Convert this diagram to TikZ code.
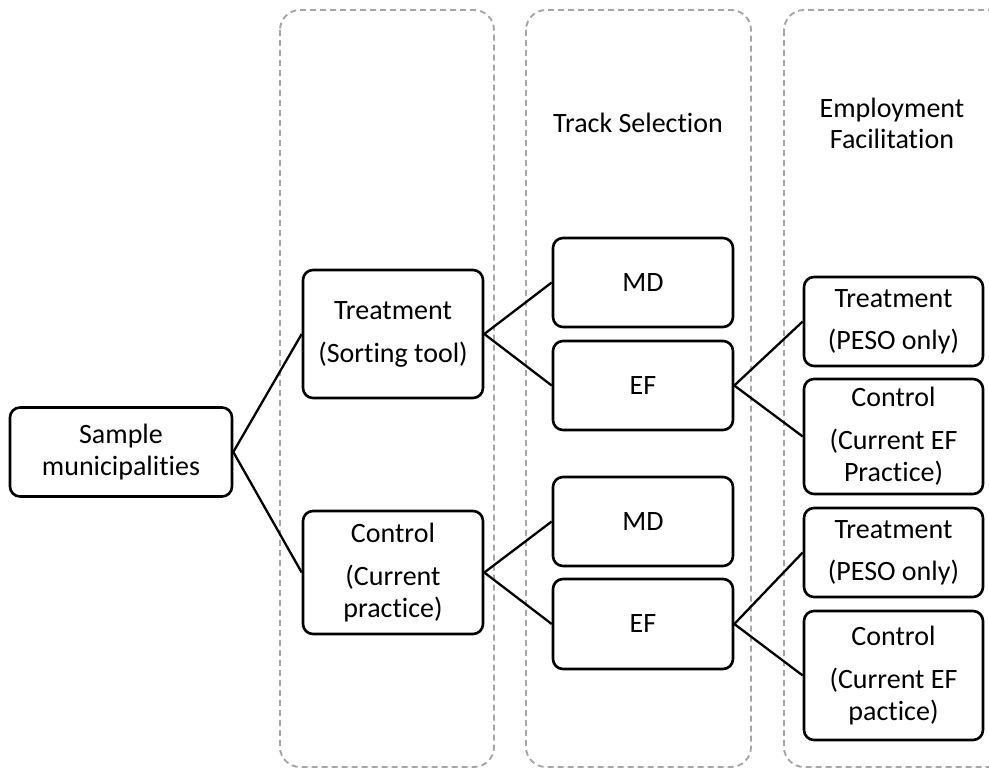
\documentclass[tikz,border=0pt]{standalone}
\usepackage{fontspec}
\setmainfont[Ligatures=NoCommon]{Carlito}
\begin{document}
\begin{tikzpicture}[x=1pt,y=-1pt,
  box/.style={draw, line width=2.6pt, rounded corners=10pt, align=center, inner sep=0pt, fill=white,
    font=\fontsize{28}{32}\selectfont},
  lane/.style={draw=black!35, dash pattern=on 6pt off 4pt, line width=1.9pt, rounded corners=20pt},
  conn/.style={line width=2.3pt},
  head/.style={align=center, font=\fontsize{28}{31}\selectfont}]
\useasboundingbox (0,0) rectangle (989,768);
\clip (0,0) rectangle (989,768);
% lanes
\draw[lane] (280,10) rectangle (494,767);
\draw[lane] (526,10) rectangle (751,767);
\draw[lane] (784,10) rectangle (1015,767);
% headers
\node[head] (hts) at (638,123) {Track Selection};
\node[head] (hef) at (892,123) {Employment\\Facilitation};
% nodes
\node[box, minimum width=222pt, minimum height=89pt] (sm) at (121,452) {Sample\\municipalities};
\node[box, minimum width=180pt, minimum height=128pt] (t1) at (393,334) {Treatment\\[11pt](Sorting tool)};
\node[box, minimum width=180pt, minimum height=123pt] (c1) at (393,572.5) {Control\\[11pt](Current\\practice)};
\node[box, minimum width=180pt, minimum height=89pt] (md1) at (643,282.5) {MD};
\node[box, minimum width=180pt, minimum height=89pt] (ef1) at (643,385.5) {EF};
\node[box, minimum width=180pt, minimum height=89pt] (md2) at (643,521.5) {MD};
\node[box, minimum width=180pt, minimum height=90pt] (ef2) at (643,624) {EF};
\node[box, minimum width=179pt, minimum height=89pt] (t2) at (893.5,321.5) {Treatment\\[10pt](PESO only)};
\node[box, minimum width=179pt, minimum height=115pt] (c2) at (893.5,436.5) {Control\\[11pt](Current EF\\Practice)};
\node[box, minimum width=179pt, minimum height=89pt] (t3) at (893.5,552.5) {Treatment\\[10pt](PESO only)};
\node[box, minimum width=179pt, minimum height=129pt] (c3) at (893.5,675.5) {Control\\[11pt](Current EF\\pactice)};
% connectors
\draw[conn] (sm.east) -- (t1.west);
\draw[conn] (sm.east) -- (c1.west);
\draw[conn] (t1.east) -- (md1.west);
\draw[conn] (t1.east) -- (ef1.west);
\draw[conn] (c1.east) -- (md2.west);
\draw[conn] (c1.east) -- (ef2.west);
\draw[conn] (ef1.east) -- (t2.west);
\draw[conn] (ef1.east) -- (c2.west);
\draw[conn] (ef2.east) -- (t3.west);
\draw[conn] (ef2.east) -- (c3.west);
\end{tikzpicture}
\end{document}
